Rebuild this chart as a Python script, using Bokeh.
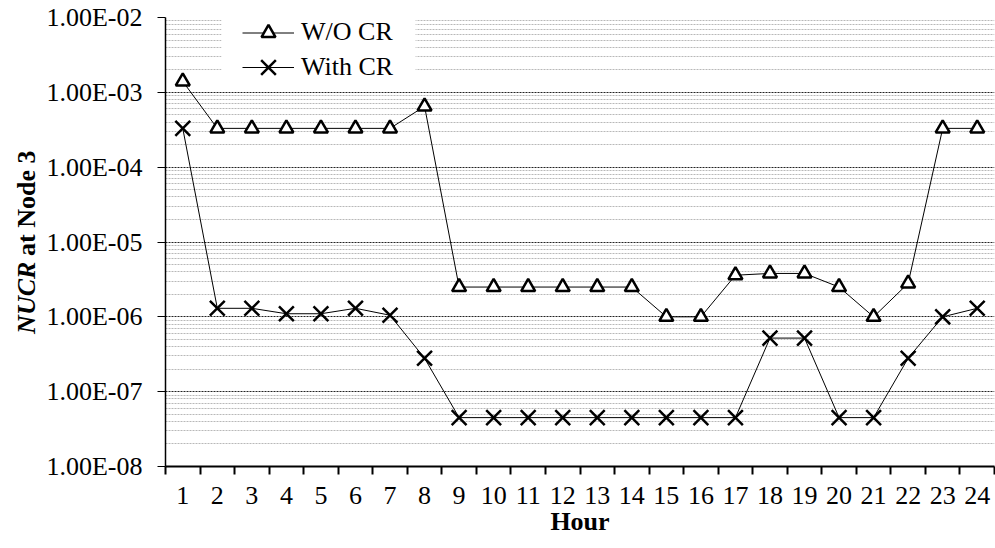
import math
from bokeh.plotting import figure
from bokeh.layouts import row
from bokeh.models import (Range1d, FixedTicker, CustomJSTickFormatter, Legend, LegendItem,
                          BoxAnnotation)
from bokeh.core.properties import value
from bokeh.embed import file_html
from bokeh.resources import INLINE

hours = list(range(1, 25))
wo_cr = [1.4e-3, 3.3e-4, 3.3e-4, 3.3e-4, 3.3e-4, 3.3e-4, 3.3e-4, 6.5e-4,
         2.5e-6, 2.5e-6, 2.5e-6, 2.5e-6, 2.5e-6, 2.5e-6, 1.0e-6, 1.0e-6,
         3.6e-6, 3.8e-6, 3.8e-6, 2.5e-6, 1.0e-6, 2.8e-6, 3.3e-4, 3.3e-4]
with_cr = [3.3e-4, 1.3e-6, 1.3e-6, 1.1e-6, 1.1e-6, 1.3e-6, 1.05e-6, 2.8e-7,
           4.5e-8, 4.5e-8, 4.5e-8, 4.5e-8, 4.5e-8, 4.5e-8, 4.5e-8, 4.5e-8,
           4.5e-8, 5.2e-7, 5.2e-7, 4.5e-8, 4.5e-8, 2.8e-7, 1.0e-6, 1.3e-6]
y_major = [1e-8, 1e-7, 1e-6, 1e-5, 1e-4, 1e-3, 1e-2]
series_names = ["W/O CR", "With CR"]
y_title_parts = ["NUCR", "at Node 3"]

FONT = "Liberation Serif"
LEFT_W = 40
W, H = 995, 548

p = figure(width=W - LEFT_W, height=H,
           x_range=Range1d(0.5, 24.5), y_range=Range1d(1e-8, 1e-2),
           y_axis_type="log", output_backend="svg", toolbar_location=None,
           min_border_left=165 - LEFT_W, min_border_right=1, min_border_top=17,
           min_border_bottom=82)
p.outline_line_color = None
p.background_fill_color = "white"
p.border_fill_color = "white"

# y axis
y_minor = [k * m for m in y_major[:-1] for k in range(2, 10)]
p.yaxis.ticker = FixedTicker(ticks=y_major, minor_ticks=y_minor)
p.yaxis.formatter = CustomJSTickFormatter(code="""
    return tick.toExponential(2).toUpperCase().replace(/E([+-])(\\d)$/, 'E$10$2');
""")
p.yaxis.major_label_text_font = FONT
p.yaxis.major_label_text_font_size = "26px"
p.yaxis.major_label_text_color = "black"
p.yaxis.major_tick_out = 8
p.yaxis.major_tick_in = 0
p.yaxis.major_tick_line_color = "black"
p.yaxis.minor_tick_line_color = None
p.yaxis.axis_line_color = "black"
p.yaxis.axis_line_width = 1.5
p.yaxis.major_label_standoff = 15

p.ygrid.grid_line_color = "#222222"
p.ygrid.grid_line_dash = "2 1"
p.ygrid.grid_line_width = 1
p.ygrid.minor_grid_line_color = "#b8b8b8"
p.ygrid.minor_grid_line_dash = "2 1"
p.ygrid.minor_grid_line_width = 1
p.xgrid.grid_line_color = None

# x axis
p.xaxis.ticker = FixedTicker(ticks=hours, minor_ticks=[h - 0.5 for h in hours] + [hours[-1] + 0.5])
p.xaxis.major_tick_out = 0
p.xaxis.major_tick_in = 0
p.xaxis.minor_tick_out = 8
p.xaxis.minor_tick_in = 0
p.xaxis.minor_tick_line_color = "black"
p.xaxis.minor_tick_line_width = 2
p.xaxis.axis_line_color = "black"
p.xaxis.axis_line_width = 2
p.xaxis.major_label_text_font = FONT
p.xaxis.major_label_text_font_size = "26px"
p.xaxis.major_label_text_color = "black"
p.xaxis.major_label_standoff = 12
p.xaxis.axis_label = "Hour"
p.xaxis.axis_label_text_font = FONT
p.xaxis.axis_label_text_font_size = "26px"
p.xaxis.axis_label_text_font_style = "bold"
p.xaxis.axis_label_text_color = "black"
p.xaxis.axis_label_standoff = 0

# white area behind the legend (hides grid lines there)
p.add_layout(BoxAnnotation(left=2.12, right=7.74, bottom=1.44e-3, top=2e-2,
                           fill_color="white", fill_alpha=1.0, line_color=None))

# series
l1 = p.line(hours, wo_cr, line_color="black", line_width=1)
s1 = p.scatter(hours, wo_cr, marker="triangle", size=14, fill_color="white",
               line_color="black", line_width=2.5)
l2 = p.line(hours, with_cr, line_color="black", line_width=1)
s2 = p.scatter(hours, with_cr, marker="x", size=21, line_color="black", line_width=2.5)

common = dict(orientation="vertical", background_fill_alpha=0.0,
              border_line_color=None, padding=4, spacing=0, glyph_width=52,
              label_standoff=7, label_text_font=FONT, label_text_font_size="26px",
              label_text_color="black", margin=0)
legend_a = Legend(items=[LegendItem(label=series_names[0], renderers=[l1, s1])],
                  location=(77, 416.5), glyph_height=35, label_height=35, **common)
legend_b = Legend(items=[LegendItem(label=series_names[1], renderers=[l2, s2])],
                  location=(77, 373), glyph_height=52, label_height=52, **common)
p.add_layout(legend_a, "center")
p.add_layout(legend_b, "center")

# left strip holding the mixed-style y-axis title
t = figure(width=LEFT_W, height=H, x_range=Range1d(0, LEFT_W), y_range=Range1d(0, H),
           output_backend="svg", toolbar_location=None,
           x_axis_location=None, y_axis_location=None,
           min_border_left=0, min_border_right=0, min_border_top=0, min_border_bottom=0)
t.outline_line_color = None
t.grid.visible = False
t.background_fill_color = "white"
t.border_fill_color = "white"
join = 250
t.text(x=[26], y=[join], text=[y_title_parts[0]], angle=math.pi / 2,
       text_align="right", text_baseline="middle", text_font=value(FONT),
       text_font_size="26px", text_font_style="bold italic", text_color="black")
t.text(x=[26], y=[join + 7], text=[y_title_parts[1]], angle=math.pi / 2,
       text_align="left", text_baseline="middle", text_font=value(FONT),
       text_font_size="26px", text_font_style="bold", text_color="black")

layout = row(t, p, spacing=0)
open("out.html", "w").write(file_html(layout, INLINE))
